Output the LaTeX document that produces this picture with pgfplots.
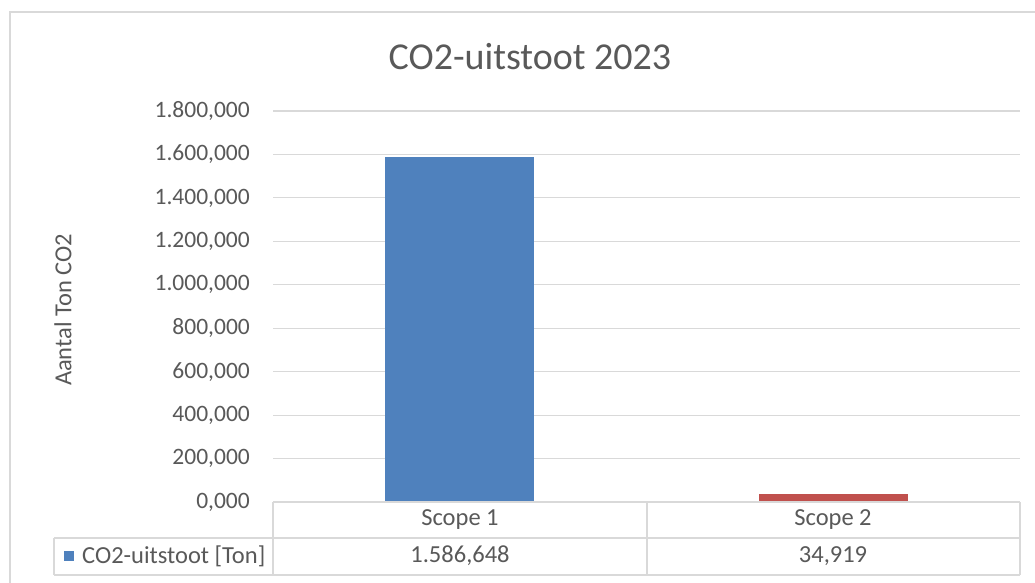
\documentclass[border=0pt]{standalone}
\usepackage{pgfplots}
\pgfplotsset{compat=1.18}
\usepackage{fontspec}
\setmainfont{Carlito}
\definecolor{txt}{HTML}{595959}
\definecolor{grd}{HTML}{D9D9D9}
\definecolor{bblue}{HTML}{4F81BD}
\definecolor{bred}{HTML}{C0504D}
\begin{document}
\begin{tikzpicture}[x=1pt,y=1pt]
\useasboundingbox (0,0) rectangle (1035,583);
\clip (0,0) rectangle (1035,583);
\fill[white] (0,0) rectangle (1035,583);
\draw[grd, line width=1.5pt] (10,-10) rectangle (1050,571);
\node[text=txt, font=\fontsize{38}{44}\selectfont] at (530,526) {CO2-uitstoot 2023};
\node[text=txt, rotate=90, font=\fontsize{24.5}{28}\selectfont] at (63,273) {Aantal Ton CO2};
\begin{axis}[
  at={(273pt,81pt)}, anchor=south west,
  scale only axis, width=747pt, height=391pt,
  xmin=-0.5, xmax=1.5, ymin=0, ymax=1800000,
  scaled y ticks=false,
  ytick={0,200000,400000,600000,800000,1000000,1200000,1400000,1600000,1800000},
  yticklabels={{0,000},{200,000},{400,000},{600,000},{800,000},{1.000,000},{1.200,000},{1.400,000},{1.600,000},{1.800,000}},
  xtick=\empty,
  axis line style={draw=none},
  ymajorgrids, grid style={grd, line width=1.2pt},
  major tick length=0pt,
  yticklabel style={font=\fontsize{23.5}{27}\selectfont, text=txt, anchor=east, inner sep=0pt, xshift=-23pt},
  ybar, bar width=149pt,
  clip=false,
]
\addplot[fill=bblue, draw=none, bar shift=0pt] coordinates {(0,1586648)};
\addplot[fill=bred, draw=none, bar shift=0pt] coordinates {(1,34919)};
\end{axis}
\begin{scope}[grd, line width=1.2pt]
\draw (273,81) -- (1020,81);
\draw (54,45) -- (1020,45);
\draw (54,8) -- (1020,8);
\draw (54,8) -- (54,45);
\draw (273,8) -- (273,81);
\draw (647,8) -- (647,81);
\draw (1020,8) -- (1020,81);
\end{scope}
\begin{scope}[every node/.style={text=txt, font=\fontsize{24.5}{28}\selectfont}]
\node at (460,63) {Scope 1};
\node at (833,63) {Scope 2};
\node at (460,27) {1.586,648};
\node at (833,27) {34,919};
\fill[bblue] (64,22) rectangle (74,32);
\node[anchor=west, inner sep=0pt] at (82,27) {CO2-uitstoot [Ton]};
\end{scope}
\end{tikzpicture}
\end{document}
